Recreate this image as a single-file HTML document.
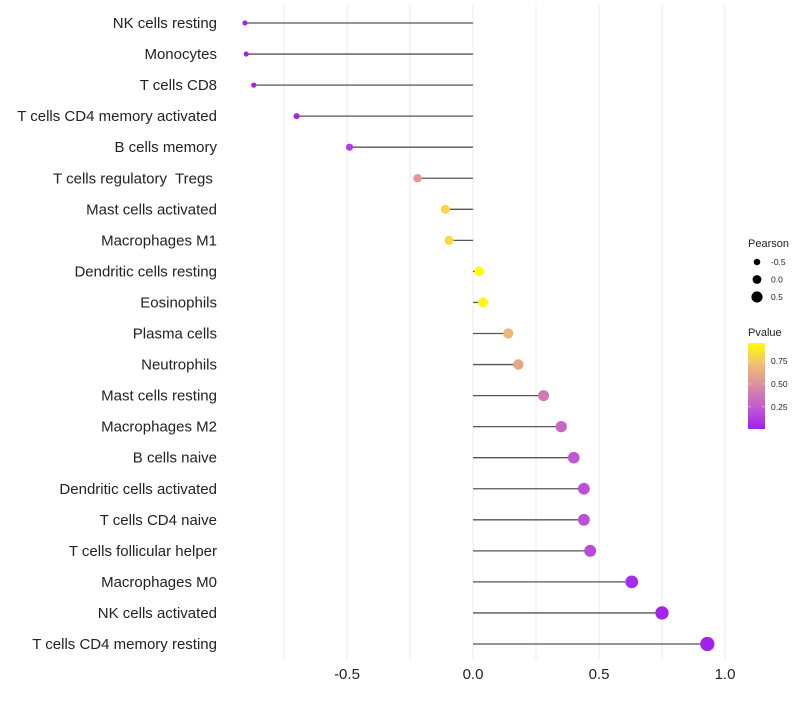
<!DOCTYPE html>
<html><head><meta charset="utf-8"><style>
body{margin:0;background:#fff;font-family:"Liberation Sans",sans-serif}
text{white-space:pre}
</style></head><body>
<svg id="c" width="800" height="700" xmlns="http://www.w3.org/2000/svg" font-family="Liberation Sans, sans-serif"></svg>
<script>
const categories=["NK cells resting","Monocytes","T cells CD8","T cells CD4 memory activated","B cells memory","T cells regulatory  Tregs ","Mast cells activated","Macrophages M1","Dendritic cells resting","Eosinophils","Plasma cells","Neutrophils","Mast cells resting","Macrophages M2","B cells naive","Dendritic cells activated","T cells CD4 naive","T cells follicular helper","Macrophages M0","NK cells activated","T cells CD4 memory resting"];
const pearson=[-0.905,-0.90,-0.87,-0.70,-0.49,-0.22,-0.11,-0.095,0.025,0.04,0.14,0.18,0.28,0.35,0.40,0.44,0.44,0.465,0.63,0.75,0.93];
const pvalues=[0.01,0.01,0.02,0.03,0.12,0.55,0.8,0.82,0.95,0.92,0.68,0.6,0.38,0.3,0.22,0.2,0.2,0.18,0.05,0.02,0.01];
const xTicks=[-0.5,0,0.5,1.0];
const xTickLabels=["-0.5","0.0","0.5","1.0"];
const gridVals=[-0.75,-0.5,-0.25,0,0.25,0.5,0.75,1.0];
const NS="http://www.w3.org/2000/svg",svg=document.getElementById('c');
const X=v=>473+252*v, Y=i=>23+i*31.05;
const R=v=>4.8+2.5*v;
const stops=[[0,[160,32,240]],[0.25,[195,90,210]],[0.5,[218,140,160]],[0.75,[240,190,115]],[1,[255,255,0]]];
function col(p){let t=(p-0.006)/(0.95-0.006);t=Math.max(0,Math.min(1,t));
for(let k=1;k<stops.length;k++){if(t<=stops[k][0]){const a=stops[k-1],b=stops[k],f=(t-a[0])/(b[0]-a[0]);return 'rgb('+a[1].map((c,j)=>Math.round(c+(b[1][j]-c)*f)).join(',')+')';}}return 'rgb(255,255,0)';}
function el(tag,at,txt){const e=document.createElementNS(NS,tag);for(const k in at)e.setAttribute(k,at[k]);if(txt!==undefined)e.textContent=txt;svg.appendChild(e);return e;}
gridVals.forEach(v=>{const g=el('line',{x1:X(v),x2:X(v),y1:5,y2:660,stroke:'#ebebeb','stroke-width':1});

});
xTicks.forEach((v,i)=>{const t=el('text',{x:X(v),y:679,'font-size':15,'text-anchor':'middle',fill:'#222'},xTickLabels[i]);

});
categories.forEach((c,i)=>{
const t=el('text',{x:217,y:Y(i)+5,'font-size':15,'text-anchor':'end',fill:'#222'},c);


const s=el('line',{x1:X(0),x2:X(pearson[i]),y1:Y(i),y2:Y(i),stroke:'#555','stroke-width':1.3});


const d=el('circle',{cx:X(pearson[i]),cy:Y(i),r:R(pearson[i]),fill:col(pvalues[i])});


});
const lt=el('text',{x:748,y:247,'font-size':11,fill:'#222'},'Pearson');


[-0.5,0,0.5].forEach((v,i)=>{const y=262+i*17.5;
const c=el('circle',{cx:757,cy:y,r:R(v)*0.92,fill:'#000'});


const t=el('text',{x:771,y:y+3,'font-size':8.5,fill:'#222'},['-0.5','0.0','0.5'][i]);

});
const pt=el('text',{x:748,y:336,'font-size':11,fill:'#222'},'Pvalue');


const defs=el('defs',{});const lg=document.createElementNS(NS,'linearGradient');
lg.setAttribute('id','gr');lg.setAttribute('x1','0');lg.setAttribute('y1','1');lg.setAttribute('x2','0');lg.setAttribute('y2','0');
stops.forEach(s=>{const st=document.createElementNS(NS,'stop');st.setAttribute('offset',s[0]);st.setAttribute('stop-color','rgb('+s[1].join(',')+')');lg.appendChild(st);});
defs.appendChild(lg);
const bar=el('rect',{x:748,y:343,width:17,height:86,fill:'url(#gr)'});


[0.75,0.5,0.25].forEach(v=>{const y=343+(0.95-v)/(0.95-0.006)*86;
el('line',{x1:748,x2:751,y1:y,y2:y,stroke:'#fff','stroke-width':0.6,opacity:0.7});
el('line',{x1:762,x2:765,y1:y,y2:y,stroke:'#fff','stroke-width':0.6,opacity:0.7});
const t=el('text',{x:771,y:y+3,'font-size':8.5,fill:'#222'},v.toFixed(2));

});
</script>
</body></html>
